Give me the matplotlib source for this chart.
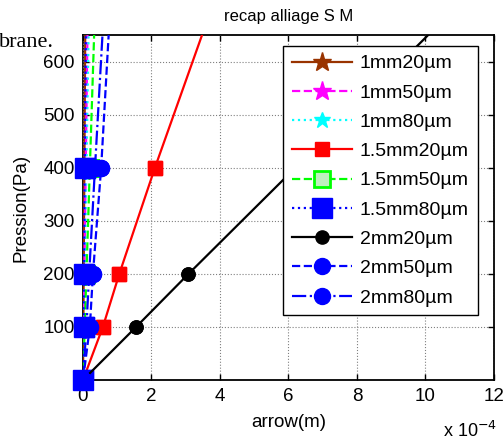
import numpy as np
import matplotlib
matplotlib.use('Agg')
import matplotlib.pyplot as plt
from matplotlib.ticker import FuncFormatter

plt.rcParams['font.family'] = ['Liberation Sans', 'DejaVu Sans']

# pressions (Pa) et fleches (m)
pression = [0, 100, 200, 400, 800]
labels = ['1mm20\u00b5m', '1mm50\u00b5m', '1mm80\u00b5m',
          '1.5mm20\u00b5m', '1.5mm50\u00b5m', '1.5mm80\u00b5m',
          '2mm20\u00b5m', '2mm50\u00b5m', '2mm80\u00b5m']
f_1mm20 = [0, 0.01e-4, 0.02e-4, 0.04e-4, 0.08e-4]
f_1mm50 = [0, 0.02e-4, 0.04e-4, 0.08e-4, 0.16e-4]
f_1mm80 = [0, 0.025e-4, 0.05e-4, 0.1e-4, 0.2e-4]
f_15mm20 = [0, 0.58e-4, 1.06e-4, 2.1e-4, 4.3e-4]
f_15mm50 = [0, 0.05e-4, 0.1e-4, 0.2e-4, 0.4e-4]
f_15mm80 = [0, 0.015e-4, 0.03e-4, 0.05e-4, 0.1e-4]
f_2mm20 = [0, 1.55e-4, 3.08e-4, 6.2e-4, 12.4e-4]
f_2mm50 = [0, 0.2e-4, 0.29e-4, 0.53e-4, 0.88e-4]
f_2mm80 = [0, 0.1e-4, 0.18e-4, 0.35e-4, 0.7e-4]

fig = plt.figure(figsize=(5.03, 4.45), dpi=100)
ax = fig.add_axes([0.165, 0.146, 0.817, 0.775])

lw = 1.6
series = [
    (f_1mm20, '-', (0.6, 0.2, 0.0), '*', 14, None),
    (f_1mm50, '--', '#ff00ff', '*', 14, None),
    (f_1mm80, ':', '#00ffff', '*', 12, None),
    (f_15mm20, '-', 'red', 's', 10.5, None),
    (f_15mm50, '--', '#00ff00', 's', 11, '#bff0bf'),
    (f_15mm80, ':', 'blue', 's', 14, None),
    (f_2mm20, '-', 'black', 'o', 9.5, None),
    (f_2mm50, '--', 'blue', 'o', 11.5, None),
    (f_2mm80, '-.', 'blue', 'o', 11.5, None),
]
ymax = 650
for (f, ls, c, m, ms, mfc), lab in zip(series, labels):
    mew = 2 if mfc is not None else 1
    mfc = c if mfc is None else mfc
    ax.plot(f, pression, linestyle=ls, color=c, marker=m, ms=ms, mfc=mfc, mew=mew, lw=lw, label=lab)
    # points visibles, non coupes au bord des axes
    xs = [x for x, p in zip(f, pression) if p <= ymax]
    ps = [p for p in pression if p <= ymax]
    ax.plot(xs, ps, linestyle='none', color=c, marker=m, ms=ms, mfc=mfc, mew=mew, clip_on=False)

ax.set_xlim(0, 12e-4)
ax.set_ylim(0, ymax)
ax.set_xticks(np.arange(0, 13e-4, 2e-4))
ax.set_yticks([100, 200, 300, 400, 500, 600])
ax.xaxis.set_major_formatter(FuncFormatter(lambda v, p: '%d' % round(v / 1e-4)))
ax.tick_params(direction='in', top=True, right=True, labelsize=13.5, length=4, width=1, pad=6)
ax.grid(True, color='#808080', linestyle=':', linewidth=0.8)
for s in ax.spines.values():
    s.set_linewidth(1.3)
    s.set_zorder(0.5)

ax.set_title('recap alliage S M', fontsize=12, pad=10)
ax.set_xlabel('arrow(m)', fontsize=13.5, labelpad=6)
ax.set_ylabel('Pression(Pa)', fontsize=13.5, labelpad=10)
fig.text(0.88, 0.01, 'x 10$^{-4}$', fontsize=13, ha='left', va='bottom')
fig.text(0.108, 0.905, 'brane.', fontsize=16, family=['Liberation Serif', 'DejaVu Serif'], ha='right', va='center')

leg = ax.legend(loc='upper left', bbox_to_anchor=(283 / 503, 1 - 46 / 445),
                bbox_transform=fig.transFigure, fontsize=14, fancybox=False,
                framealpha=1, edgecolor='black', handlelength=3.1,
                labelspacing=0.6, borderpad=0.45, handletextpad=0.4, borderaxespad=0)
leg.get_frame().set_linewidth(1.0)
leg.set_zorder(5)

fig.savefig('out.png', dpi=100)
